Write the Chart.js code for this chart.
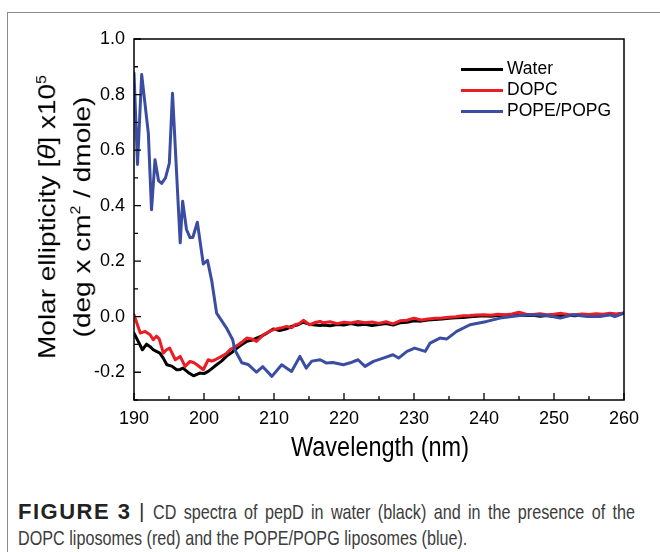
<!DOCTYPE html>
<html lang="en">
<head>
    <meta charset="UTF-8">
    <title>CD spectra of pepD</title>
    <script src="https://cdn.jsdelivr.net/npm/chart.js"></script>
    <style>
        body { margin: 0; background: #fff; font-family: "Liberation Sans", Arial, sans-serif; }
        #wrap { position: relative; width: 660px; height: 552px; overflow: hidden; }
        #frame { position: absolute; left: 7px; top: 12px; width: 700px; height: 600px;
                 border-left: 1px solid #8a8a8a; border-top: 1px solid #8a8a8a; }
        #graph { position: absolute; left: 0; top: 0; }
        .ytitle { position: absolute; left: -115px; top: 177px; width: 360px; height: 80px;
                  transform: rotate(-90deg) scaleY(0.87); text-align: center; font-size: 28px; line-height: 40px; color: #000; }
        .ytitle sup { font-size: 16px; vertical-align: 11px; line-height: 0; }
        .xtitle { position: absolute; left: 230px; top: 431px; width: 300px; text-align: center; font-size: 27px; line-height: 32px;
                  transform: scaleX(0.87); }
        .legend { position: absolute; left: 461px; top: 58px; font-size: 17.5px; }
        .legend div { height: 21px; line-height: 21px; white-space: nowrap; }
        .legend span { display: inline-block; width: 42px; height: 3.5px; vertical-align: middle; margin-right: 4px; }
        .cap { position: absolute; font-size: 21px; line-height: 26px; color: #3c3c3c; white-space: nowrap; }
        .cap.bold { left: 18px; top: 499px; font-weight: bold; font-size: 22px; letter-spacing: 1.5px; color: #222; }
        .cap.bar { left: 139px; top: 498px; color: #333; }
        .cap.l1 { left: 153px; top: 499px; width: 626px; text-align: justify; text-align-last: justify;
                  transform: scaleX(0.77); transform-origin: 0 0; }
        .cap.l2 { left: 18px; top: 525px; transform: scaleX(0.77); transform-origin: 0 0; }
    </style>
</head>
<body>
<div id="wrap">
    <div id="frame"></div>
    <canvas id="graph" width="660" height="470"></canvas>
    <div class="ytitle">Molar ellipticity [<i>θ</i>] x10<sup>5</sup><br>(deg x cm<sup>2</sup> / dmole)</div>
    <div class="xtitle">Wavelength (nm)</div>
    <div class="legend">
        <div><span style="background:#000"></span>Water</div>
        <div><span style="background:#ec1c24"></span>DOPC</div>
        <div><span style="background:#3a4da3"></span>POPE/POPG</div>
    </div>
    <div class="cap bold">FIGURE 3</div>
    <div class="cap bar">|</div>
    <div class="cap l1">CD spectra of pepD in water (black) and in the presence of the</div>
    <div class="cap l2">DOPC liposomes (red) and the POPE/POPG liposomes (blue).</div>
</div>
<script>
    // values (x10^5 deg cm2 / dmole)
    const wlWater = [190, 190.6, 191.2, 191.8, 192.3, 192.75, 193.2, 193.7, 194.2, 194.7, 195.4, 196.1, 196.6, 197.0, 197.7,
        198.5, 199.4, 200.0, 200.6, 201.2, 201.8, 202.5, 203.2, 203.9, 204.7, 205.4, 206.1, 206.8, 207.5, 208.2, 209.0,
        209.9, 210.8, 211.8, 212.5, 213.3, 214.2, 215.0, 215.6, 216.6,
        217, 218, 219, 220, 221, 222, 223, 224, 225, 226, 227, 228, 229, 230, 231, 232, 233, 234, 235, 236, 237, 238,
        239, 240, 241, 242, 243, 244, 245, 246, 247, 248, 249, 250, 251, 252, 253, 254, 255, 256, 257, 258, 259, 260];
    const water = [-0.059, -0.089, -0.119, -0.099, -0.108, -0.119, -0.125, -0.131, -0.15, -0.173, -0.178, -0.191, -0.19,
        -0.185, -0.2, -0.213, -0.203, -0.205, -0.197, -0.185, -0.173, -0.16, -0.143, -0.13, -0.113, -0.1, -0.089, -0.085,
        -0.077, -0.07, -0.059, -0.044, -0.05, -0.044, -0.035, -0.03, -0.02, -0.027, -0.029, -0.032,
        -0.03, -0.033, -0.028, -0.03, -0.025, -0.03, -0.027, -0.032, -0.028, -0.025, -0.03, -0.022, -0.02, -0.015, -0.016,
        -0.012, -0.01, -0.008, -0.006, -0.004, -0.003, 0.0, 0.002, 0.003, 0.002, 0.004, 0.005, 0.003, 0.006, 0.004, 0.005,
        0.002, 0.004, 0.001, 0.003, 0.005, 0.003, 0.006, 0.004, 0.007, 0.005, 0.008, 0.009, 0.012];

    const wlDopc = [190, 190.5, 190.9, 191.6, 192.3, 192.75, 193.2, 193.6, 194.2, 194.6, 195.1, 195.9, 196.6, 197.3, 198.0,
        198.5, 199.0, 199.9, 200.6, 201.1, 201.6, 202.5, 203.1, 203.7, 204.3, 204.9, 205.5, 206.1, 206.8, 207.5, 208.5,
        209.2, 209.9, 210.9, 211.8, 212.5, 213.0, 213.6, 214.2, 215.1, 216.0, 216.6,
        217, 218, 219, 220, 221, 222, 223, 224, 225, 226, 227, 228, 229, 230, 231, 232, 233, 234, 235, 236, 237, 238,
        239, 240, 241, 242, 243, 244, 245, 246, 247, 248, 249, 250, 251, 252, 253, 254, 255, 256, 257, 258, 259, 260];
    const dopc = [0.007, -0.03, -0.059, -0.053, -0.065, -0.083, -0.07, -0.08, -0.131, -0.12, -0.113, -0.155, -0.143,
        -0.179, -0.161, -0.165, -0.173, -0.191, -0.155, -0.16, -0.155, -0.143, -0.135, -0.119, -0.11, -0.101, -0.09,
        -0.077, -0.08, -0.089, -0.065, -0.055, -0.047, -0.041, -0.035, -0.04, -0.029, -0.025, -0.013, -0.029, -0.02, -0.017,
        -0.022, -0.018, -0.025, -0.02, -0.023, -0.017, -0.022, -0.019, -0.024, -0.018, -0.026, -0.015, -0.013, -0.005,
        -0.012, -0.008, -0.006, -0.005, -0.002, 0.0, 0.003, 0.004, 0.006, 0.007, 0.005, 0.009, 0.007, 0.01, 0.016, 0.009,
        0.008, 0.011, 0.007, 0.009, 0.012, 0.008, 0.007, 0.01, 0.008, 0.011, 0.009, 0.012, 0.01, 0.013];

    const wlPope = [190.0, 190.5, 191.1, 192.05, 192.5, 193.0, 193.5, 193.95, 194.5, 195.05, 195.5, 196.6, 196.95, 197.5,
        198.0, 198.4, 199.05, 199.9, 200.5, 201.1, 201.8, 203.2, 204.1, 204.4, 205.4, 206.3, 207.5, 208.4, 209.7, 211.1,
        212.5, 213.7, 214.6, 215.4, 216.6, 217.5, 218.4, 219.9, 220.9, 222.0, 223.0, 224.2, 225.6, 227.0, 227.8, 229.0,
        230.1, 231.6, 232.3, 233.7, 234.7, 236.1, 238.0, 240.4, 242.3, 245.1, 247.0, 249.0, 250.9, 252.7, 254.7, 256.6,
        258.0, 258.7, 260.0];
    const pope = [0.878, 0.548, 0.872, 0.66, 0.385, 0.565, 0.49, 0.48, 0.5, 0.553, 0.805, 0.266, 0.416, 0.314, 0.285,
        0.285, 0.34, 0.19, 0.203, 0.13, 0.013, -0.04, -0.083, -0.119, -0.166, -0.172, -0.2, -0.18, -0.215, -0.173, -0.197,
        -0.143, -0.185, -0.16, -0.155, -0.167, -0.165, -0.173, -0.166, -0.155, -0.179, -0.161, -0.149, -0.137, -0.149,
        -0.125, -0.113, -0.125, -0.095, -0.077, -0.08, -0.053, -0.029, -0.017, -0.005, 0.004, 0.007, 0.004, -0.005, 0.007,
        0.001, 0.001, 0.007, 0.0, 0.013];

    function pts(xs, ys) {
        return xs.map((x, i) => ({ x: x, y: ys[i] }));
    }

    // box round the plot + inward ticks (long on labelled values, short between)
    const frameTicks = {
        id: 'frameTicks',
        afterDraw(chart) {
            const ctx = chart.ctx;
            const a = chart.chartArea;
            const xs = chart.scales.x, ys = chart.scales.y;
            ctx.save();
            ctx.strokeStyle = '#000';
            ctx.lineWidth = 1.5;
            ctx.strokeRect(a.left, a.top, a.right - a.left, a.bottom - a.top);
            ctx.lineWidth = 1.3;
            ctx.beginPath();
            xs.ticks.forEach(t => {
                const px = xs.getPixelForValue(t.value);
                const len = t.value % 10 === 0 ? 7 : 4;
                ctx.moveTo(px, a.bottom);
                ctx.lineTo(px, a.bottom - len);
            });
            ys.ticks.forEach(t => {
                const py = ys.getPixelForValue(t.value);
                const len = Math.abs(Math.round(t.value * 10)) % 2 === 0 ? 7 : 4;
                ctx.moveTo(a.left, py);
                ctx.lineTo(a.left + len, py);
            });
            ctx.stroke();
            ctx.restore();
        }
    };

    const tickFont = { family: '"Liberation Sans", Arial, sans-serif', size: 18 };

    new Chart(document.getElementById('graph'), {
        type: 'line',
        data: {
            datasets: [
                { label: 'Water', data: pts(wlWater, water), borderColor: '#000000', order: 3 },
                { label: 'DOPC', data: pts(wlDopc, dopc), borderColor: '#ec1c24', order: 2 },
                { label: 'POPE/POPG', data: pts(wlPope, pope), borderColor: '#3a4da3', order: 1 }
            ]
        },
        options: {
            responsive: false,
            animation: false,
            elements: {
                line: { borderWidth: 3, tension: 0, borderJoinStyle: 'round', borderCapStyle: 'round' },
                point: { radius: 0 }
            },
            layout: { padding: { left: 0, top: 39, right: 36, bottom: 0 } },
            plugins: { legend: { display: false }, tooltip: { enabled: false } },
            scales: {
                x: {
                    type: 'linear', min: 190, max: 260,
                    ticks: { stepSize: 5, color: '#000', font: tickFont, padding: 8, maxRotation: 0,
                             callback: v => v % 10 === 0 ? String(v) : '' },
                    grid: { display: false, drawTicks: false },
                    border: { display: false },
                    afterFit: s => { s.height = 70; }
                },
                y: {
                    min: -0.3, max: 1.0,
                    ticks: { stepSize: 0.1, color: '#000', font: tickFont, padding: 9,
                             callback: v => Math.abs(Math.round(v * 10)) % 2 === 0 ? v.toFixed(1) : '' },
                    grid: { display: false, drawTicks: false },
                    border: { display: false },
                    afterFit: s => { s.width = 134; }
                }
            }
        },
        plugins: [frameTicks]
    });
</script>
</body>
</html>
